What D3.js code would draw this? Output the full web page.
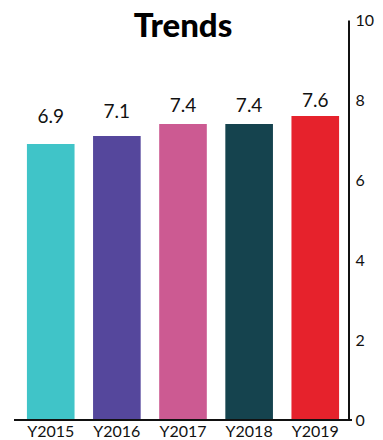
<!DOCTYPE html>
<html>
<head>
<meta charset="utf-8">
<script src="https://cdn.jsdelivr.net/npm/d3@7"></script>
<style>
  body { margin: 0; background: #fff; }
  text { font-family: Lato, "Open Sans", sans-serif; }
</style>
</head>
<body>
<svg id="chart" width="383" height="440"></svg>
<script>
// chart data
let years = ["Y2015", "Y2016", "Y2017", "Y2018", "Y2019"];
let values = [6.9, 7.1, 7.4, 7.4, 7.6];
let colors = ["#40C4C8", "#55479C", "#CC5A92", "#15434E", "#E6222C"];
let yTicks = [0, 2, 4, 6, 8, 10];

let svg = d3.select("#chart");

let x = d3.scaleBand()
  .domain(years)
  .range([17, 349])
  .paddingInner(0.28)
  .paddingOuter(0.15);

let y = d3.scaleLinear()
  .domain([0, 10])
  .range([420, 20]);

// labels sit in a squeezed band above the bars (taller bars -> smaller gap)
let labelY = d => 40.7 + 0.571 * y(d);

// bars
svg.append("g")
  .selectAll("rect")
  .data(values)
  .join("rect")
  .attr("x", (d, i) => x(years[i]))
  .attr("y", d => y(d))
  .attr("width", x.bandwidth())
  .attr("height", d => y(0) - y(d))
  .attr("fill", (d, i) => colors[i]);

// value labels
svg.append("g")
  .selectAll("text")
  .data(values)
  .join("text")
  .attr("x", (d, i) => x(years[i]) + x.bandwidth() / 2)
  .attr("y", d => labelY(d))
  .attr("text-anchor", "middle")
  .attr("font-size", 19)
  .attr("fill", "#111")
  .text(d => d.toFixed(1));

// x axis line and labels
svg.append("line")
  .attr("x1", 14).attr("x2", 352)
  .attr("y1", y(0)).attr("y2", y(0))
  .attr("stroke", "#111").attr("stroke-width", 2);

svg.append("g")
  .selectAll("text")
  .data(years)
  .join("text")
  .attr("x", d => x(d) + x.bandwidth() / 2)
  .attr("y", 437)
  .attr("text-anchor", "middle")
  .attr("font-size", 16)
  .attr("fill", "#111")
  .text(d => d);

// y axis on the right
let yAxis = svg.append("g")
  .attr("transform", "translate(348.5,0)")
  .call(d3.axisRight(y).tickValues(yTicks).tickSize(0).tickPadding(7));
yAxis.select(".domain").attr("stroke", "#111").attr("stroke-width", 2);
yAxis.selectAll("text")
  .attr("font-family", "Lato, 'Open Sans', sans-serif")
  .attr("font-size", 16)
  .attr("fill", "#111");

// title
svg.append("text")
  .attr("x", 183)
  .attr("y", 37)
  .attr("text-anchor", "middle")
  .attr("font-size", 33)
  .attr("font-weight", 900)
  .attr("fill", "#000")
  .text("Trends");
</script>
</body>
</html>
